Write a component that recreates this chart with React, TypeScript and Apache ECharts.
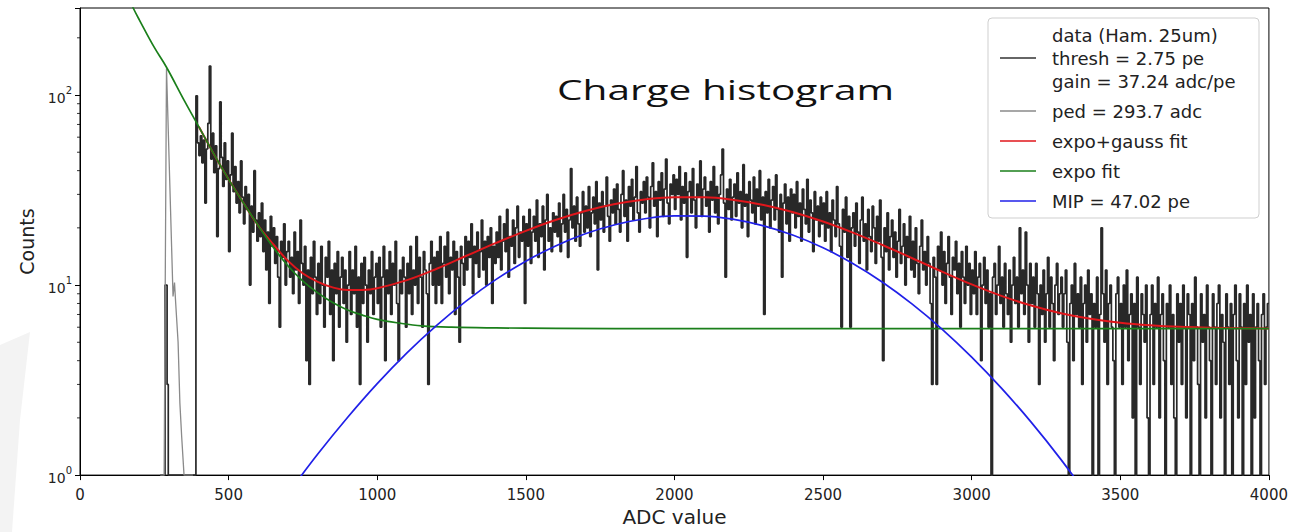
import React, { useEffect, useRef } from "react";
import * as echarts from "echarts";

// ---------- data ----------
// black "data" histogram: a few bins near the pedestal, then 5-ADC bins from 390 to 4000
const earlyX = [270, 286, 293, 297];
const earlyY = [1, 10, 3, 1];
const binStart = 390;
const binWidth = 5;
const counts0390 = [
  99, 56,
  48, 61, 44, 58, 27, 52, 71, 142, 46, 63, 39, 54, 18, 41, 92, 47, 33, 56, 36, 45,
  15, 38, 63, 31, 42, 27, 35, 24, 45, 29, 21, 33, 25, 30, 10, 26, 19, 40, 22, 17,
  24, 18, 27, 15, 22, 12, 19, 8, 23, 16, 20, 13, 18, 11, 6, 17, 14, 21, 10, 15,
  17, 11, 14, 9, 19, 12, 15, 8, 22, 13, 10, 16, 4, 12, 3, 14, 9, 17, 11, 7,
  13, 8, 16, 10, 6, 14, 11, 17, 7, 12, 4, 13, 9, 15, 6, 11, 14, 8, 12, 5,
  10, 15, 7, 12, 9, 16, 6, 11, 3, 13, 8, 14, 10, 5, 12, 9, 15, 7, 11, 13,
];
const counts1000 = [
  8, 14, 6, 11, 16, 4, 12, 9, 15, 7, 13, 10, 17, 8, 4, 12, 9, 14, 11, 6,
  13, 9, 16, 7, 12, 10, 18, 8, 14, 11, 6, 15, 12, 9, 3, 13, 17, 10, 14, 8,
  15, 10, 18, 8, 13, 16, 11, 19, 9, 14, 12, 17, 7, 15, 11, 5, 16, 13, 10, 18,
  12, 17, 14, 21, 9, 16, 13, 19, 11, 15, 22, 12, 17, 10, 18, 14, 20, 8, 16, 13,
  19, 14, 23, 12, 17, 21, 15, 25, 11, 18, 16, 22, 13, 20, 26, 14, 19, 17, 23, 8,
  21, 16, 25, 13, 19, 23, 17, 28, 14, 21, 18, 26, 12, 22, 30, 17, 20, 15, 24, 19,
  23, 18, 27, 15, 21, 30, 19, 25, 14, 22, 41, 20, 26, 17, 29, 21, 16, 24, 31, 19,
  26, 20, 33, 18, 24, 29, 21, 35, 12, 27, 22, 31, 19, 26, 37, 23, 17, 28, 24, 32,
  21, 34, 25, 19, 30, 40, 23, 28, 17, 33, 26, 36, 22, 29, 42, 24, 19, 31, 27, 35,
  24, 37, 29, 20, 33, 44, 26, 31, 18, 35, 28, 39, 23, 32, 46, 27, 21, 34, 30, 38,
];
const counts2000 = [
  25, 36, 30, 42, 22, 33, 27, 39, 14, 31, 35, 24, 41, 28, 20, 34, 29, 45, 23, 32,
  37, 26, 31, 19, 35, 28, 42, 24, 33, 21, 30, 38, 52, 27, 11, 32, 25, 36, 22, 29,
  34, 23, 39, 27, 31, 20, 43, 26, 30, 18, 35, 28, 24, 37, 21, 32, 26, 40, 22, 29,
  7, 31, 24, 36, 20, 28, 33, 22, 38, 25, 19, 30, 11, 27, 34, 21, 29, 17, 32, 24,
  30, 20, 35, 23, 27, 17, 32, 25, 21, 36, 19, 28, 24, 15, 31, 22, 26, 18, 29, 21,
  27, 17, 31, 20, 24, 15, 28, 22, 18, 33, 21, 16, 6, 25, 19, 29, 14, 23, 6, 20,
  24, 16, 27, 19, 13, 22, 29, 17, 21, 12, 25, 18, 15, 26, 20, 13, 23, 17, 28, 14,
  4, 20, 15, 24, 12, 18, 22, 14, 19, 11, 17, 25, 13, 16, 21, 10, 18, 14, 23, 12,
  17, 11, 20, 13, 9, 16, 22, 12, 15, 10, 18, 13, 8, 3, 14, 11, 3, 16, 12, 19,
  10, 15, 8, 13, 18, 11, 7, 14, 12, 17, 9, 13, 6, 15, 11, 8, 16, 10, 13, 7,
];
const counts3000 = [
  12, 9, 15, 7, 11, 13, 4, 10, 14, 8, 12, 6, 9, 1, 11, 13, 7, 10, 16, 8,
  11, 6, 13, 9, 7, 12, 5, 10, 14, 8, 11, 6, 20, 9, 12, 7, 19, 10, 5, 13,
  8, 11, 6, 13, 9, 3, 10, 7, 12, 5, 9, 14, 6, 11, 8, 4, 10, 13, 7, 9,
  11, 6, 9, 12, 5, 1, 8, 10, 4, 13, 7, 9, 6, 11, 3, 8, 10, 5, 12, 7,
  9, 1, 8, 6, 11, 1, 7, 20, 9, 5, 12, 3, 8, 10, 6, 4, 1, 9, 11, 6,
  8, 3, 10, 6, 12, 4, 7, 9, 2, 8, 1, 11, 6, 3, 9, 7, 5, 10, 2, 1,
  7, 10, 3, 8, 6, 11, 2, 7, 9, 4, 1, 8, 6, 10, 3, 7, 2, 1, 9, 5,
  8, 3, 10, 6, 2, 9, 7, 1, 8, 4, 11, 6, 3, 1, 9, 5, 7, 2, 10, 6,
  4, 1, 9, 6, 3, 8, 10, 2, 7, 5, 1, 9, 6, 3, 8, 1, 7, 10, 4, 2,
  9, 6, 1, 8, 3, 10, 5, 7, 1, 9, 2, 6, 8, 4, 1, 7, 9, 3, 6, 8,
];

// grey pedestal
const pedX = [270, 283, 291, 313, 318, 322, 330, 336, 342, 350, 380];
const pedY = [1, 1, 138, 8.7, 10.3, 8, 5, 2.4, 1.6, 1, 1];

// expo+gauss fit (red)
const redX = [400, 450, 500, 550, 600, 650, 700, 750, 800, 850, 900, 950, 1000, 1100, 1200, 1300, 1400, 1500, 1600, 1700, 1800, 1900, 2000, 2100, 2200, 2300, 2400, 2500, 2600, 2700, 2800, 2900, 3000, 3100, 3200, 3300, 3400, 3500, 3600, 3700, 3800, 3900, 4000];
const redY = [68, 49, 36, 27, 20.5, 16.4, 13.4, 11.5, 10.4, 9.72, 9.41, 9.43, 9.63, 10.62, 12.19, 14.26, 16.66, 19.29, 21.99, 24.52, 26.67, 28.23, 29.02, 28.96, 28.05, 26.4, 24.18, 21.6, 18.89, 16.25, 13.84, 11.77, 10.08, 8.77, 7.8, 7.11, 6.64, 6.34, 6.15, 6.03, 5.97, 5.93, 5.91];

// expo fit (green)
const greenX = [150, 179, 200, 250, 291, 350, 400, 450, 500, 550, 600, 650, 700, 750, 800, 850, 900, 950, 1000, 1076, 1150, 1250, 1400, 1600, 2000, 2500, 3000, 3500, 4000];
const greenY = [360, 287, 248, 178, 140, 94, 68, 49, 36, 27, 20.5, 15.8, 12.6, 10.5, 9.1, 8.1, 7.4, 6.95, 6.6, 6.3, 6.1, 6.0, 5.95, 5.92, 5.9, 5.9, 5.9, 5.9, 5.9];

// MIP gauss (blue)
const blueX = [700, 800, 900, 1000, 1100, 1200, 1300, 1400, 1500, 1600, 1700, 1800, 1900, 2000, 2100, 2200, 2300, 2400, 2500, 2600, 2700, 2800, 2900, 3000, 3100, 3200, 3300, 3400];
const blueY = [0.8, 1.29, 2.01, 3.03, 4.4, 6.14, 8.26, 10.71, 13.36, 16.07, 18.62, 20.77, 22.33, 23.12, 23.06, 22.15, 20.5, 18.28, 15.7, 12.99, 10.35, 7.94, 5.87, 4.18, 2.87, 1.9, 1.21, 0.74];

const legendLines = [
  { label: ["data (Ham. 25um)", "thresh = 2.75 pe", "gain = 37.24 adc/pe"], color: "#333333" },
  { label: ["ped = 293.7 adc"], color: "#8a8a8a" },
  { label: ["expo+gauss fit"], color: "#e0161b" },
  { label: ["expo fit"], color: "#1a7f1a" },
  { label: ["MIP = 47.02 pe"], color: "#2020e8" },
];
const minorTickValues = [2, 3, 4, 5, 6, 7, 8, 9, 20, 30, 40, 50, 60, 70, 80, 90, 200];
const titleText = "Charge histogram";

const FONT = "DejaVu Sans";
const TXT = "#222222";

export default function App() {
  const ref = useRef<HTMLDivElement>(null);
  useEffect(() => {
    const el = ref.current!;
    const chart = echarts.init(el, null, { renderer: "svg" });

    const allCounts = [...counts0390, ...counts1000, ...counts2000, ...counts3000];
    const dataPts: number[][] = earlyX.map((x, i) => [x, earlyY[i]]);
    allCounts.forEach((c, i) => dataPts.push([binStart + i * binWidth, c]));
    dataPts.push([binStart + allCounts.length * binWidth, allCounts[allCounts.length - 1]]);

    const zip = (xs: number[], ys: number[]) => xs.map((x, i) => [x, ys[i]]);

    const lineSeries = (name: string, data: number[][], color: string, width: number, extra: any = {}) => ({
      name,
      type: "line",
      data,
      showSymbol: false,
      symbol: "none",
      silent: true,
      clip: true,
      color,
      lineStyle: { color, width },
      emphasis: { disabled: true },
      ...extra,
    });

    chart.setOption({
      animation: false,
      backgroundColor: "#ffffff",
      grid: { left: 80, right: 21, top: 8, bottom: 52, show: true, borderColor: "#000", borderWidth: 1, backgroundColor: "transparent" },
      xAxis: {
        type: "value",
        min: 0,
        max: 4000,
        interval: 500,
        name: "ADC value",
        nameLocation: "middle",
        nameGap: 30,
        nameTextStyle: { fontFamily: FONT, fontSize: 20, color: TXT },
        axisLine: { onZero: false, lineStyle: { color: "#000", width: 1 } },
        axisTick: { inside: false, length: 5, lineStyle: { color: "#000" } },
        axisLabel: { fontFamily: FONT, fontSize: 15, color: TXT, margin: 12, formatter: (v: number) => String(v) },
        splitLine: { show: false },
      },
      yAxis: {
        type: "log",
        logBase: 10,
        min: 1,
        max: 287,
        name: "Counts",
        nameLocation: "middle",
        nameGap: 39,
        nameRotate: 90,
        nameTextStyle: { fontFamily: FONT, fontSize: 19, color: TXT },
        axisLine: { lineStyle: { color: "#000", width: 1 } },
        axisTick: { inside: false, length: 5, lineStyle: { color: "#000" } },
        axisLabel: {
          margin: 8,
          formatter: (v: number) => {
            const l = Math.log10(v);
            const e = Math.round(l);
            if (Math.abs(l - e) > 1e-6) return "";
            return `{b|10}{s|${e}}`;
          },
          rich: {
            b: { fontFamily: FONT, fontSize: 14, color: TXT, lineHeight: 20, verticalAlign: "bottom" },
            s: { fontFamily: FONT, fontSize: 10, color: TXT, lineHeight: 12, verticalAlign: "top" },
          },
        },
        splitLine: { show: false },
      },
      series: [
        lineSeries("data", dataPts, "#282828", 1.7, { step: "end", z: 2 }),
        lineSeries("ped", zip(pedX, pedY), "#8a8a8a", 1.3, { z: 3 }),
        lineSeries("expo+gauss fit", zip(redX, redY), "#e0161b", 2, { smooth: 0.4, z: 4 }),
        lineSeries("expo fit", zip(greenX, greenY), "#1a7f1a", 1.7, { smooth: 0.4, z: 5 }),
        lineSeries("MIP", zip(blueX, blueY), "#2020e8", 1.7, { smooth: 0.4, z: 6 }),
      ],
    });

    // graphics: minor log ticks (positions from the axis scale), legend box, title, slide swoosh
    const x0 = chart.convertToPixel({ xAxisIndex: 0 }, 0) as number;
    const minor = minorTickValues.map((v) => {
      const y = chart.convertToPixel({ yAxisIndex: 0 }, v) as number;
      return { type: "line", shape: { x1: x0 - 3, y1: y, x2: x0, y2: y }, style: { stroke: "#000", lineWidth: 0.8 }, silent: true, z: 10 };
    });

    const lx = 988, ly = 18;
    const legendChildren: any[] = [
      { type: "rect", shape: { x: lx, y: ly, width: 271, height: 200, r: 4 }, style: { fill: "rgba(255,255,255,0.9)", stroke: "#cfcfcf", lineWidth: 1 } },
    ];
    let yy = ly + 17;
    legendLines.forEach((it) => {
      const n = it.label.length;
      const lineH = 23;
      const mid = yy + ((n - 1) * lineH) / 2;
      legendChildren.push({ type: "line", shape: { x1: lx + 12, y1: mid, x2: lx + 48, y2: mid }, style: { stroke: it.color, lineWidth: 1.6 } });
      it.label.forEach((t, k) => {
        legendChildren.push({
          type: "text",
          x: lx + 64,
          y: yy + k * lineH,
          style: { text: t, fontFamily: FONT, fontSize: 18, fill: TXT, verticalAlign: "middle", align: "left" },
        });
      });
      yy += (n - 1) * lineH + 30;
    });

    chart.setOption({
      graphic: [
        { type: "polygon", shape: { points: [[0, 345], [30, 332], [20, 420], [12, 532], [0, 532]] }, style: { fill: "#f3f3f3" }, z: -1, silent: true },
        ...minor,
        {
          type: "text",
          x: 557,
          y: 103,
          scaleX: 1.45,
          originX: 0,
          z: 50,
          style: { text: titleText, fontFamily: "Open Sans", fontSize: 28, fill: "#111111", verticalAlign: "bottom", align: "left" },
          silent: true,
        },
        { type: "group", children: legendChildren, z: 100, silent: true },
      ],
    });

    return () => chart.dispose();
  }, []);
  return <div ref={ref} style={{ position: "absolute", left: 0, top: 0, width: 1291, height: 532, background: "#ffffff" }} />;
}
